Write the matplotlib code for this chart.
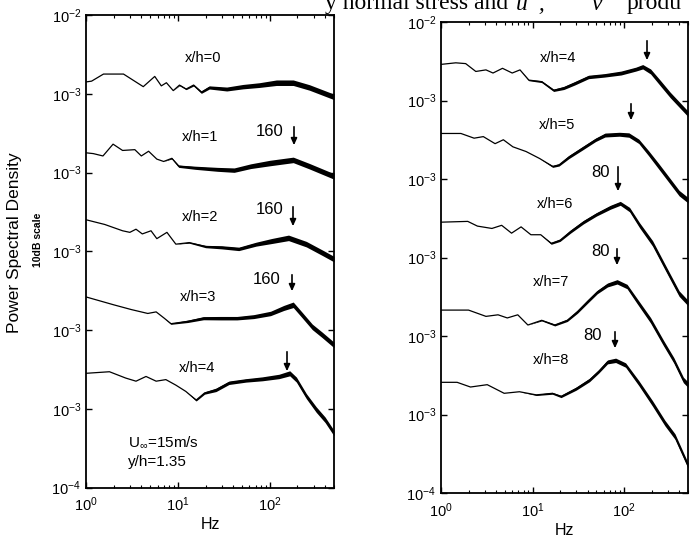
import numpy as np
import matplotlib
matplotlib.use("Agg")
import matplotlib.pyplot as plt

plt.rcParams['font.family'] = ['Liberation Sans', 'DejaVu Sans']
plt.rcParams['mathtext.default'] = 'regular'

W, H = 691, 539

# log10 of the power spectral density; each row of a panel is
# drawn one decade (10 dB) below the previous one. B = half thickness of the noisy trace
# --- left panel: x/h = 0 .. 4
F_L0 = [1, 1.15, 1.55, 2.56, 4.2, 5.6, 6.6, 7.5, 8.9, 10.4, 12.3, 14.8, 18, 22, 34, 51, 77, 118, 180, 270, 500]
P_L0 = [-2.85, -2.84, -2.75, -2.75, -2.91, -2.78, -2.90, -2.86, -2.96, -2.89, -2.94, -2.89, -2.98, -2.92,
        -2.94, -2.91, -2.89, -2.86, -2.86, -2.92, -3.04]
B_L0 = [0, 0, 0, 0, 0, 0, 0, 0, 0, 0.008, 0.008, 0.012, 0.015, 0.02, 0.025, 0.028, 0.03, 0.035, 0.035, 0.035, 0.035]

F_L1 = [1, 1.2, 1.53, 1.97, 2.5, 3.4, 4.0, 4.8, 5.9, 7.0, 8.6, 10.2, 15.5, 27, 41, 62, 100, 180, 270, 500]
P_L1 = [-2.75, -2.76, -2.79, -2.64, -2.72, -2.71, -2.79, -2.73, -2.83, -2.86, -2.82, -2.92, -2.94, -2.96,
        -2.97, -2.92, -2.88, -2.84, -2.92, -3.05]
B_L1 = [0, 0, 0, 0, 0, 0, 0, 0, 0, 0, 0.008, 0.015, 0.02, 0.025, 0.028, 0.03, 0.035, 0.035, 0.035, 0.035]

F_L2 = [1, 1.6, 2.5, 3.0, 3.5, 4.1, 5.1, 5.9, 7.6, 9.5, 13.3, 20, 30, 46, 71, 105, 160, 250, 375, 500]
P_L2 = [-2.60, -2.66, -2.74, -2.76, -2.72, -2.78, -2.74, -2.84, -2.76, -2.91, -2.89, -2.94, -2.95, -2.97,
        -2.91, -2.87, -2.83, -2.91, -3.02, -3.10]
B_L2 = [0, 0, 0, 0, 0, 0, 0, 0, 0, 0, 0.008, 0.015, 0.02, 0.022, 0.025, 0.032, 0.035, 0.035, 0.035, 0.035]

F_L3 = [1, 2.0, 3.1, 4.7, 5.8, 7.1, 8.4, 12.8, 19, 29, 44, 67, 102, 142, 180, 225, 290, 370, 500]
P_L3 = [-2.58, -2.68, -2.74, -2.79, -2.77, -2.85, -2.92, -2.89, -2.85, -2.85, -2.85, -2.83, -2.79, -2.72,
        -2.68, -2.81, -2.96, -3.06, -3.19]
B_L3 = [0, 0, 0, 0, 0, 0, 0.008, 0.015, 0.02, 0.022, 0.022, 0.025, 0.028, 0.032, 0.035, 0.035, 0.035, 0.035,
        0.035]

F_L4 = [1, 1.8, 2.7, 3.5, 4.5, 5.8, 7.4, 9.5, 12.2, 15.8, 19.5, 26, 36, 55, 83, 126, 165, 195, 250, 320, 400, 500]
P_L4 = [-2.55, -2.53, -2.61, -2.65, -2.59, -2.65, -2.63, -2.70, -2.78, -2.89, -2.80, -2.76, -2.67, -2.64,
        -2.62, -2.59, -2.55, -2.63, -2.84, -3.01, -3.14, -3.31]
B_L4 = [0, 0, 0, 0, 0, 0, 0, 0, 0, 0.012, 0.015, 0.022, 0.022, 0.022, 0.025, 0.028, 0.032, 0.032, 0.032,
        0.035, 0.035, 0.035]

# --- right panel: x/h = 4 .. 8
F_R4 = [1, 1.45, 1.86, 2.4, 3.1, 3.7, 4.7, 6.0, 7.3, 9.1, 12.6, 17, 22, 29, 41, 61, 93, 135, 160, 195, 250, 320, 500]
P_R4 = [-2.54, -2.52, -2.53, -2.63, -2.61, -2.65, -2.59, -2.65, -2.61, -2.74, -2.76, -2.87, -2.84, -2.78,
        -2.70, -2.68, -2.65, -2.60, -2.57, -2.63, -2.78, -2.93, -3.17]
B_R4 = [0, 0, 0, 0, 0, 0, 0, 0, 0, 0.008, 0.012, 0.015, 0.02, 0.022, 0.022, 0.022, 0.025, 0.025, 0.028,
        0.032, 0.035, 0.035, 0.035]

F_R5 = [1, 1.65, 2.3, 2.9, 3.9, 4.8, 6.1, 8.5, 12, 16.6, 19.5, 25, 35, 49, 62, 89, 113, 145, 185, 240, 310, 400, 500]
P_R5 = [-2.42, -2.42, -2.48, -2.46, -2.55, -2.50, -2.59, -2.65, -2.74, -2.84, -2.82, -2.72, -2.61, -2.50,
        -2.44, -2.43, -2.44, -2.52, -2.67, -2.84, -3.01, -3.18, -3.27]
B_R5 = [0, 0, 0, 0, 0, 0, 0, 0, 0, 0.012, 0.015, 0.02, 0.022, 0.022, 0.025, 0.025, 0.028, 0.028, 0.032, 0.035,
        0.035, 0.035, 0.035]

F_R6 = [1, 1.96, 2.5, 3.6, 4.6, 5.9, 7.5, 9.6, 12.3, 16, 20, 26, 36, 50, 71, 91, 115, 148, 205, 280, 400, 500]
P_R6 = [-2.55, -2.54, -2.60, -2.63, -2.59, -2.69, -2.61, -2.71, -2.71, -2.82, -2.78, -2.67, -2.55, -2.45,
        -2.36, -2.31, -2.39, -2.59, -2.82, -3.12, -3.46, -3.58]
B_R6 = [0, 0, 0, 0, 0, 0, 0, 0, 0, 0.012, 0.015, 0.02, 0.022, 0.022, 0.025, 0.025, 0.028, 0.032, 0.035, 0.035,
        0.035, 0.035]

F_R7 = [1, 2.0, 3.1, 4.2, 5.3, 6.9, 8.9, 12.6, 17.5, 24, 31, 40, 51, 66, 84, 108, 138, 195, 270, 350, 445, 500]
P_R7 = [-2.67, -2.67, -2.75, -2.73, -2.77, -2.73, -2.86, -2.80, -2.86, -2.80, -2.69, -2.56, -2.44, -2.35,
        -2.31, -2.37, -2.55, -2.80, -3.09, -3.31, -3.56, -3.62]
B_R7 = [0, 0, 0, 0, 0, 0, 0, 0.008, 0.012, 0.015, 0.02, 0.022, 0.022, 0.025, 0.028, 0.028, 0.032, 0.035,
        0.035, 0.035, 0.035, 0.035]

F_R8 = [1, 1.5, 2.1, 3.2, 4.9, 7.2, 11, 16.5, 20.5, 30, 42, 53, 66, 81, 104, 145, 205, 280, 360, 500]
P_R8 = [-2.59, -2.59, -2.65, -2.62, -2.73, -2.71, -2.75, -2.73, -2.77, -2.67, -2.56, -2.45, -2.33, -2.31,
        -2.37, -2.60, -2.86, -3.11, -3.28, -3.65]
B_R8 = [0, 0, 0, 0, 0, 0, 0.008, 0.012, 0.015, 0.02, 0.022, 0.022, 0.025, 0.028, 0.028, 0.032, 0.035, 0.035,
        0.035, 0.035]

LEFT_CURVES = [(F_L0, P_L0, B_L0), (F_L1, P_L1, B_L1), (F_L2, P_L2, B_L2), (F_L3, P_L3, B_L3), (F_L4, P_L4, B_L4)]
RIGHT_CURVES = [(F_R4, P_R4, B_R4), (F_R5, P_R5, B_R5), (F_R6, P_R6, B_R6), (F_R7, P_R7, B_R7), (F_R8, P_R8, B_R8)]

Y_TICK_LABELS = ['$10^{-4}$', '$10^{-3}$', '$10^{-3}$', '$10^{-3}$', '$10^{-3}$', '$10^{-3}$', '$10^{-2}$']
X_TICK_LABELS = ['$10^{0}$', '$10^{1}$', '$10^{2}$']


def px(x, y):
    """pixel position in the 691x539 picture -> figure fraction"""
    return x / W, 1 - y / H


def draw_panel(ax, curves):
    for row, (f, p, b) in enumerate(curves):
        f = np.array(f)
        p = np.array(p) - row
        b = np.array(b)
        ax.fill_between(f, 10 ** (p - b), 10 ** (p + b), color='black', lw=0)
        ax.plot(f, 10 ** p, color='black', lw=0.9)

    ax.set_xscale('log')
    ax.set_yscale('log')
    ax.set_xlim(1, 500)
    ax.set_ylim(1e-8, 1e-2)
    ax.set_yticks([10.0 ** k for k in range(-8, -1)])
    ax.set_yticklabels(Y_TICK_LABELS)
    ax.yaxis.set_minor_locator(matplotlib.ticker.NullLocator())
    ax.set_xticks([1, 10, 100])
    ax.set_xticklabels(X_TICK_LABELS)
    ax.tick_params(which='both', direction='in', top=True, right=True, labelsize=10.5)
    ax.tick_params(which='major', length=4, width=1)
    ax.tick_params(which='minor', length=2, width=0.8)
    ax.tick_params(axis='x', pad=6)
    for s in ax.spines.values():
        s.set_linewidth(1.3)
    ax.set_xlabel('Hz', fontsize=11.5, labelpad=2)


def label(fig, x, y, s, size=10.5, **kw):
    fx, fy = px(x, y)
    fig.text(fx, fy, s, fontsize=size, ha=kw.pop('ha', 'center'), va=kw.pop('va', 'center'), **kw)


def arrow(fig, x, y0, y1):
    fig.add_artist(matplotlib.patches.FancyArrowPatch(
        px(x, y0), px(x, y1), transform=fig.transFigure,
        arrowstyle='-|>,head_length=4,head_width=1.8', color='black', lw=1.2))


fig = plt.figure(figsize=(W / 100, H / 100), dpi=100)
ax_l = fig.add_axes([86 / W, 1 - 487.5 / H, 248 / W, 472.5 / H])
ax_r = fig.add_axes([441 / W, 1 - 493 / H, 247 / W, 471 / H])
draw_panel(ax_l, LEFT_CURVES)
draw_panel(ax_r, RIGHT_CURVES)

# cut-off caption line of the scanned page (only its lower part is on the scan)
serif = ['Liberation Serif', 'DejaVu Serif']
base = 1 - 9.5 / H
fig.text(508 / W, base, 'y normal stress and', family=serif, fontsize=17, ha='right', va='baseline')
fig.text(516 / W, base, "u\u2032 ,", family=serif, style='italic', fontsize=17, ha='left', va='baseline')
fig.text(592 / W, base, "v\u2032", family=serif, style='italic', fontsize=17, ha='left', va='baseline')
fig.text(627 / W, base, 'produ', family=serif, fontsize=17, ha='left', va='baseline')

# y axis title
label(fig, 15, 243, 'Power Spectral Density', size=12.5, rotation=90)
label(fig, 38, 240, '10dB scale', size=7.5, rotation=90, fontweight='bold')

# left panel annotations
label(fig, 203, 58, 'x/h=0')
label(fig, 200, 137, 'x/h=1')
label(fig, 200, 217, 'x/h=2')
label(fig, 198, 297, 'x/h=3')
label(fig, 197, 368, 'x/h=4')
label(fig, 270, 131, '160', size=12)
label(fig, 270, 209, '160', size=12)
label(fig, 267, 280, '160', size=12)
arrow(fig, 294, 124, 148)
arrow(fig, 293, 204, 229)
arrow(fig, 292, 272, 294)
arrow(fig, 287, 349, 374)
label(fig, 128, 442, 'U$_{\\infty}$=15m/s', size=11, ha='left')
label(fig, 128, 462, 'y/h=1.35', size=11, ha='left')

# right panel annotations
label(fig, 558, 58, 'x/h=4')
label(fig, 557, 125, 'x/h=5')
label(fig, 555, 204, 'x/h=6')
label(fig, 551, 282, 'x/h=7')
label(fig, 551, 360, 'x/h=8')
label(fig, 600, 173, '80', size=12)
label(fig, 600, 252, '80', size=12)
label(fig, 592, 335, '80', size=12)
arrow(fig, 647, 38, 63)
arrow(fig, 631, 101, 123)
arrow(fig, 618, 164, 194)
arrow(fig, 617, 246, 268)
arrow(fig, 615, 329, 351)

fig.savefig('out.png', dpi=100)
